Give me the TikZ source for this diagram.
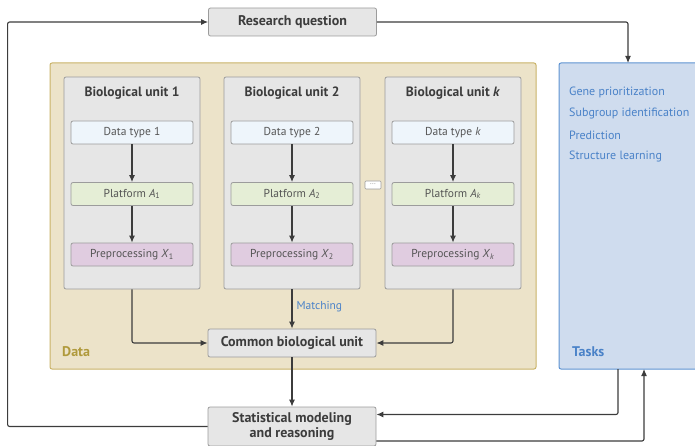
\documentclass[tikz,border=0pt]{standalone}
\usepackage{fontspec}
\setmainfont{PT Sans}
\usetikzlibrary{positioning, arrows.meta}

\definecolor{lineDark}{HTML}{3C3C3C}
\definecolor{boxEdge}{HTML}{9C9C9C}
\definecolor{boxGray}{HTML}{E6E6E6}
\definecolor{dataFill}{HTML}{ECE3C9}
\definecolor{dataEdge}{HTML}{C9B267}
\definecolor{dataText}{HTML}{B09A3C}
\definecolor{taskFill}{HTML}{CFDCEE}
\definecolor{taskEdge}{HTML}{5E93D2}
\definecolor{taskText}{HTML}{4A82C8}
\definecolor{typeFill}{HTML}{EEF5FB}
\definecolor{platFill}{HTML}{E5EED6}
\definecolor{prepFill}{HTML}{E0CCE0}
\definecolor{innerText}{HTML}{555555}

\begin{document}
\begin{tikzpicture}[x=1pt, y=-1pt, >={Latex[length=7pt, width=6pt]},
  every node/.style={inner sep=0pt},
  graybox/.style={draw=boxEdge, fill=boxGray, rounded corners=2pt, line width=0.8pt},
  mainbox/.style={graybox, minimum width=168pt, minimum height=28pt, font=\bfseries\fontsize{14}{15}\selectfont, text=lineDark},
  unitbox/.style={graybox, minimum width=136pt, minimum height=212pt},
  smallbox/.style={draw=boxEdge, rounded corners=2pt, line width=0.8pt, minimum width=122pt, minimum height=23pt, font=\fontsize{11.5}{12}\selectfont, text=innerText},
  unittitle/.style={font=\bfseries\fontsize{13.5}{14}\selectfont, text=lineDark},
  tasktext/.style={anchor=west, font=\fontsize{12}{13}\selectfont, text=taskText},
  link/.style={draw=lineDark, line width=1.1pt, rounded corners=2pt}]
\useasboundingbox (0,0) rectangle (695,446);

% framing areas
\node[draw=dataEdge, fill=dataFill, line width=1pt, rounded corners=2pt,
      minimum width=486pt, minimum height=306pt] at (293,216) (data) {} ;
\node[draw=taskEdge, fill=taskFill, line width=1pt, rounded corners=2pt,
      minimum width=146pt, minimum height=306pt] at (632,216) (tasks) {} ;

% main boxes
\node[mainbox] at (292.5,22) (question) {Research question} ;
\node[mainbox] at (292,343) (common) {Common biological unit} ;
\node[mainbox, minimum height=39pt, align=center, font=\bfseries\fontsize{14}{15.5}\selectfont]
      at (292,426.5) (stats) {Statistical modeling\\and reasoning} ;

% biological units
\node[unitbox] at (132,183) (unit1) {} ;
\node[unitbox] at (292,183) (unit2) {} ;
\node[unitbox] at (453,183) (unitk) {} ;

\node[unittitle] at (132,93.5) (title1) {Biological unit 1} ;
\node[unittitle] at (292,93.5) (title2) {Biological unit 2} ;
\node[unittitle] at (453,93.5) (titlek) {Biological unit \textit{k}} ;

\node[smallbox, fill=typeFill] at (132,132.5) (type1) {Data type 1} ;
\node[smallbox, fill=typeFill] at (292,132.5) (type2) {Data type 2} ;
\node[smallbox, fill=typeFill] at (453,132.5) (typek) {Data type \textit{k}} ;

\node[smallbox, fill=platFill] at (132,194) (plat1) {Platform \textit{A}\textsubscript{1}} ;
\node[smallbox, fill=platFill] at (292,194) (plat2) {Platform \textit{A}\textsubscript{2}} ;
\node[smallbox, fill=platFill] at (453,194) (platk) {Platform \textit{A}\textsubscript{\textit{k}}} ;

\node[smallbox, fill=prepFill] at (132,254.5) (prep1) {Preprocessing \textit{X}\textsubscript{1}} ;
\node[smallbox, fill=prepFill] at (292,254.5) (prep2) {Preprocessing \textit{X}\textsubscript{2}} ;
\node[smallbox, fill=prepFill] at (453,254.5) (prepk) {Preprocessing \textit{X}\textsubscript{\textit{k}}} ;

\node[draw=boxEdge, fill=white, rounded corners=1pt, line width=0.6pt,
      minimum width=16pt, minimum height=8pt, font=\fontsize{8}{8}\selectfont, text=boxEdge] at (373,185) (dots) {\raisebox{1.5pt}{\ldots}} ;

\draw[link, ->] (type1) -- (plat1) ;
\draw[link, ->] (plat1) -- (prep1) ;
\draw[link, ->] (type2) -- (plat2) ;
\draw[link, ->] (plat2) -- (prep2) ;
\draw[link, ->] (typek) -- (platk) ;
\draw[link, ->] (platk) -- (prepk) ;

% labels
\node[anchor=west, font=\bfseries\fontsize{14}{15}\selectfont, text=dataText] at (62,352) (datalabel) {Data} ;
\node[anchor=west, font=\bfseries\fontsize{14}{15}\selectfont, text=taskText] at (572,352) (tasklabel) {Tasks} ;

\node[tasktext] at (569,92) (task1) {Gene prioritization} ;
\node[tasktext] at (569,113.5) (task2) {Subgroup identification} ;
\node[tasktext] at (569,135) (task3) {Prediction} ;
\node[tasktext] at (569,157) (task4) {Structure learning} ;

\coordinate (tasksin) at (628,63) ;
\coordinate (tasksout) at (618,369) ;
\coordinate (tasksback) at (644,369) ;

% connectors
\draw[link, ->] (unit1.south) |- (common.west) ;
\draw[link, ->] (unitk.south) |- (common.east) ;
\draw[link, ->] (unit2.south) -- node[right=4pt, pos=0.45, font=\fontsize{11.5}{12}\selectfont, text=taskText]{Matching} (common.north) ;
\draw[link, ->] (common.south) -- (stats.north) ;
\draw[link, ->] (question.east) -| (tasksin) ;
\draw[link, ->] (stats.west) -- ++(-200,0) |- (question.west) ;
\draw[link, ->] (tasksout) |- ([yshift=12pt]stats.east) ;
\draw[link, ->] ([yshift=-14.5pt]stats.east) -| (tasksback) ;
\end{tikzpicture}
\end{document}
